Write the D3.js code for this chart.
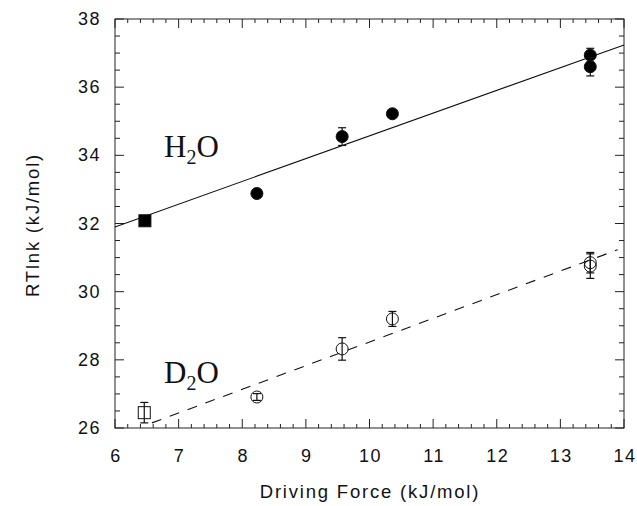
<!DOCTYPE html>
<html><head><meta charset="utf-8">
<script src="https://cdn.jsdelivr.net/npm/d3@7"></script>
<style>body{margin:0;background:#fff}svg{display:block}</style>
</head><body>
<svg id="c" width="637" height="506"></svg>
<script>
// Data
const h2oX = [6.47, 8.23, 9.57, 10.36, 13.47, 13.47];
const h2oY = [32.08, 32.88, 34.55, 35.22, 36.94, 36.6];
const h2oErr = [0.1, 0.1, 0.26, 0.1, 0.2, 0.27];
const h2oShape = ["square", "circle", "circle", "circle", "circle", "circle"];
const d2oX = [6.46, 8.23, 9.57, 10.36, 13.47, 13.47];
const d2oY = [26.45, 26.91, 28.32, 29.2, 30.85, 30.75];
const d2oErr = [0.3, 0.1, 0.33, 0.22, 0.3, 0.36];
const d2oShape = ["square", "circle", "circle", "circle", "circle", "circle"];
const h2oFitX = [6, 14];
const h2oFitY = [31.9, 37.24];
const d2oFitX = [6.58, 13.9];
const d2oFitY = [26.15, 31.23];
const xTicks = [6, 7, 8, 9, 10, 11, 12, 13, 14];
const yTicks = [26, 28, 30, 32, 34, 36, 38];

const svg = d3.select("#c");
const L = 115, R = 624, T = 19, B = 428;
const x = d3.scaleLinear().domain([6, 14]).range([L, R]);
const y = d3.scaleLinear().domain([26, 38]).range([B, T]);

// frame
svg.append("rect").attr("x", L).attr("y", T).attr("width", R - L).attr("height", B - T)
  .attr("fill", "none").attr("stroke", "#222").attr("stroke-width", 1);

const xMinor = d3.range(6, 14.001, 0.2);
const yMinor = d3.range(26, 38.001, 0.5);
const g = svg.append("g").attr("stroke", "#222").attr("stroke-width", 1);
xMinor.forEach(v => {
  const major = Math.abs(v - Math.round(v)) < 1e-6;
  const len = major ? 9 : 4;
  g.append("line").attr("x1", x(v)).attr("x2", x(v)).attr("y1", B).attr("y2", B - len);
  g.append("line").attr("x1", x(v)).attr("x2", x(v)).attr("y1", T).attr("y2", T + len);
});
yMinor.forEach(v => {
  const major = Math.abs(v / 2 - Math.round(v / 2)) < 1e-6;
  const len = major ? 9 : 5;
  g.append("line").attr("y1", y(v)).attr("y2", y(v)).attr("x1", L).attr("x2", L + len);
  g.append("line").attr("y1", y(v)).attr("y2", y(v)).attr("x1", R).attr("x2", R - len);
});

const tickFont = "Liberation Sans, Arial, sans-serif";
svg.append("g").selectAll("text").data(xTicks).join("text")
  .attr("x", d => x(d) + 1).attr("y", 462).attr("text-anchor", "middle")
  .attr("font-family", tickFont).attr("font-size", 18).attr("letter-spacing", 1.5)
  .attr("fill", "#111").text(d => d);
svg.append("g").selectAll("text").data(yTicks).join("text")
  .attr("x", 101).attr("y", d => y(d) + 6).attr("text-anchor", "end")
  .attr("font-family", tickFont).attr("font-size", 18).attr("letter-spacing", 1.5)
  .attr("fill", "#111").text(d => d);

svg.append("text").attr("x", 370).attr("y", 498).attr("text-anchor", "middle")
  .attr("font-family", tickFont).attr("font-size", 18.5).attr("letter-spacing", 1.8)
  .attr("fill", "#111").text("Driving Force (kJ/mol)");
svg.append("text").attr("transform", "translate(39,225) rotate(-90)").attr("text-anchor", "middle")
  .attr("font-family", tickFont).attr("font-size", 18.5).attr("letter-spacing", 1.8)
  .attr("fill", "#111").text("RTlnk (kJ/mol)");

// fit lines
const line = d3.line().x(d => x(d[0])).y(d => y(d[1]));
svg.append("path").datum(d3.zip(h2oFitX, h2oFitY)).attr("d", line)
  .attr("fill", "none").attr("stroke", "#111").attr("stroke-width", 1.1);
svg.append("path").datum(d3.zip(d2oFitX, d2oFitY)).attr("d", line)
  .attr("fill", "none").attr("stroke", "#111").attr("stroke-width", 1.1)
  .attr("stroke-dasharray", "10,9");

function drawSeries(xs, ys, errs, shapes, filled) {
  const gg = svg.append("g");
  xs.forEach((xv, i) => {
    const cx = x(xv), cy = y(ys[i]);
    const y1 = y(ys[i] + errs[i]), y2 = y(ys[i] - errs[i]);
    gg.append("line").attr("x1", cx).attr("x2", cx).attr("y1", y1).attr("y2", y2)
      .attr("stroke", "#111").attr("stroke-width", 1.2);
    [y1, y2].forEach(yy => gg.append("line").attr("x1", cx - 4).attr("x2", cx + 4)
      .attr("y1", yy).attr("y2", yy).attr("stroke", "#111").attr("stroke-width", 1.2));
    if (shapes[i] === "square") {
      gg.append("rect").attr("x", cx - 6).attr("y", cy - 6).attr("width", 12).attr("height", 12)
        .attr("fill", filled ? "#000" : "none").attr("stroke", "#111").attr("stroke-width", 1);
    } else {
      gg.append("circle").attr("cx", cx).attr("cy", cy).attr("r", 6)
        .attr("fill", filled ? "#000" : "none").attr("stroke", "#111").attr("stroke-width", 1);
    }
  });
}
drawSeries(h2oX, h2oY, h2oErr, h2oShape, true);
drawSeries(d2oX, d2oY, d2oErr, d2oShape, false);

// labels
const serif = "Liberation Serif, Times New Roman, serif";
function chem(xp, yp, a) {
  const t = svg.append("text").attr("x", xp).attr("y", yp)
    .attr("font-family", serif).attr("font-size", 31).attr("fill", "#111");
  t.append("tspan").text(a);
  t.append("tspan").attr("font-size", 20).attr("dy", 7).text("2");
  t.append("tspan").attr("dy", -7).text("O");
}
chem(164, 157, "H");
chem(164, 383, "D");
</script>
</body></html>
